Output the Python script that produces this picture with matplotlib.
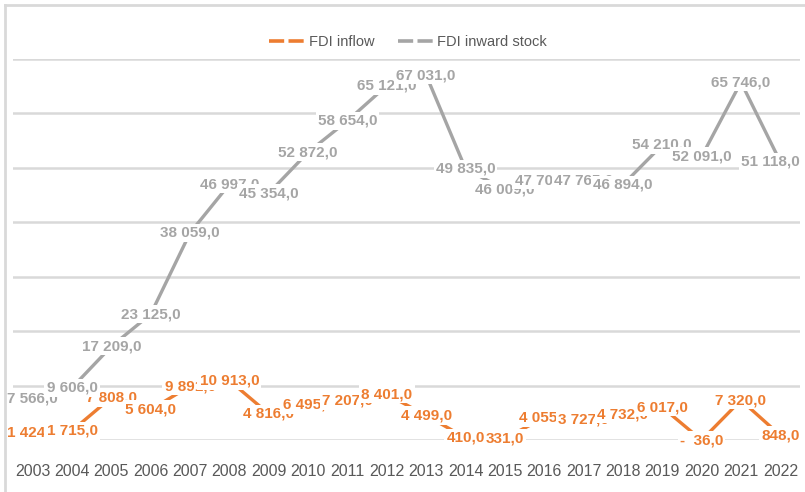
import matplotlib.pyplot as plt
from matplotlib.lines import Line2D

years = [str(y) for y in range(2003, 2023)]
fdi_inflow = [1424, 1715, 7808, 5604, 9891, 10913, 4816, 6495, 7207, 8401,
              4499, 410, 331, 4055, 3727, 4732, 6017, -36, 7320, 848]
fdi_stock = [7566, 9606, 17209, 23125, 38059, 46997, 45354, 52872, 58654, 65121,
             67031, 49835, 46009, 47706, 47765, 46894, 54210, 52091, 65746, 51118]

ORANGE = '#ED7D31'
GREY = '#A5A5A5'
TXT = '#595959'
FONT = ['Liberation Sans', 'DejaVu Sans']


def fmt(v):
    s = f"{abs(v):,.1f}".replace(',', ' ').replace('.', ',')
    if v < 0:
        return '-  ' + s
    return s


fig = plt.figure(figsize=(8.05, 4.92), dpi=100)
# light chart-area frame, only its top and left edges fall inside the image
fig.add_artist(Line2D([5 / 805, 5 / 805], [0, 1 - 5 / 492], color='#D9D9D9', lw=2))
fig.add_artist(Line2D([5 / 805, 1], [1 - 5 / 492, 1 - 5 / 492], color='#D9D9D9', lw=2))

ax = fig.add_axes([13 / 805, 52 / 492, 787 / 805, 381 / 492])

x = list(range(len(years)))
ax.plot(x, fdi_inflow, color=ORANGE, lw=2.4, zorder=2, clip_on=False)
ax.plot(x, fdi_stock, color=GREY, lw=2.4, zorder=2, clip_on=False)


def add_labels(values, color, z):
    for xi, v in zip(x, values):
        # keep the last label inside the chart area
        dx = -7 if xi == len(x) - 1 and len(fmt(v)) > 6 else 0
        ax.annotate(fmt(v), (xi, v), xytext=(dx, 0), textcoords='offset points',
                    ha='center', va='center', fontsize=11, fontweight='bold',
                    color=color, family=FONT, zorder=z,
                    bbox=dict(facecolor='white', edgecolor='none', pad=1.5))


add_labels(fdi_inflow, ORANGE, 4)
add_labels(fdi_stock, GREY, 5)

ax.set_xlim(-0.5, len(years) - 0.5)
ax.set_ylim(0, 70000)
ax.set_yticks(range(0, 70001, 10000))
ax.yaxis.grid(True, color='#D9D9D9', lw=1.8)
ax.set_axisbelow(True)
ax.tick_params(axis='y', left=False, labelleft=False)
ax.tick_params(axis='x', length=0, pad=17, labelcolor=TXT)
ax.set_xticks(x)
ax.set_xticklabels(years, fontsize=11.5, family=FONT)
for s in ax.spines.values():
    s.set_visible(False)

handles = [Line2D([], [], color=ORANGE, lw=2.6, linestyle=(0, (4.2, 1.2))),
           Line2D([], [], color=GREY, lw=2.6, linestyle=(0, (4.2, 1.2)))]
leg = fig.legend(handles, ['FDI inflow', 'FDI inward stock'], loc='center',
                 bbox_to_anchor=(408 / 805, 1 - 42 / 492), ncol=2, frameon=True,
                 prop={'family': FONT, 'size': 10.5}, handlelength=2.4,
                 handletextpad=0.3, columnspacing=1.6, borderpad=0.2)
leg.get_frame().set_edgecolor('none')
leg.get_frame().set_facecolor('white')
leg.get_frame().set_alpha(1)
leg.set_zorder(10)
for t in leg.get_texts():
    t.set_color(TXT)

fig.savefig('out.png', dpi=100)
